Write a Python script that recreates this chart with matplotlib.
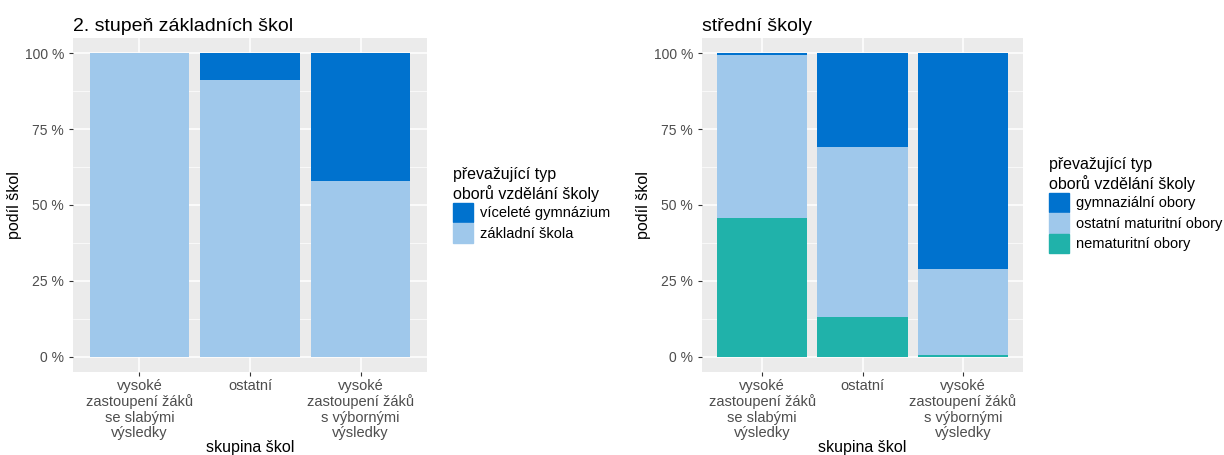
import matplotlib.pyplot as plt
from matplotlib.patches import Patch
import numpy as np

plt.rcParams['font.family'] = ['Liberation Sans', 'DejaVu Sans']

groups = ["vysoké\nzastoupení žáků\nse slabými\nvýsledky", "ostatní",
          "vysoké\nzastoupení žáků\ns výbornými\nvýsledky"]

# 2. stupeň ZŠ (podíl v %)
zs_zakladni = [100.0, 91.2, 58.0]
zs_gymnazium = [0.0, 8.8, 42.0]

# střední školy (podíl v %)
ss_nematuritni = [45.8, 13.1, 0.7]
ss_maturitni = [53.6, 56.1, 28.1]
ss_gymnazialni = [0.6, 30.8, 71.2]

c_dark = "#0072CE"
c_light = "#9FC8EB"
c_teal = "#20B2AA"
bg = "#EBEBEB"
txt = "#4D4D4D"

fig = plt.figure(figsize=(12.24, 4.55), dpi=100)
W, H = 1224, 455


def make_ax(x0, x1):
    ax = fig.add_axes([x0 / W, 1 - 372 / H, (x1 - x0) / W, (372 - 38) / H])
    ax.set_facecolor(bg)
    for s in ax.spines.values():
        s.set_visible(False)
    ax.set_xlim(0.4, 3.6)
    ax.set_ylim(-5, 105)
    ax.set_yticks([0, 25, 50, 75, 100])
    ax.set_yticklabels(["0 %", "25 %", "50 %", "75 %", "100 %"])
    ax.set_yticks([12.5, 37.5, 62.5, 87.5], minor=True)
    ax.set_xticks([1, 2, 3])
    ax.set_xticklabels(groups, linespacing=1.13, fontsize=10.5)
    ax.grid(True, which="major", color="white", linewidth=1.1)
    ax.grid(True, which="minor", axis="y", color="white", linewidth=0.5)
    ax.set_axisbelow(True)
    ax.tick_params(axis="both", which="major", colors="#333333", labelcolor=txt,
                   length=3, width=0.8)
    ax.tick_params(axis="y", labelsize=10)
    ax.tick_params(axis="x", pad=2)
    ax.tick_params(which="minor", length=0)
    ax.set_ylabel("podíl škol", fontsize=11.5, color="black", labelpad=2)
    ax.set_xlabel("skupina škol", fontsize=11.5, color="black", labelpad=0)
    return ax


x = np.arange(1, 4)

ax1 = make_ax(73, 427)
ax1.bar(x, zs_zakladni, width=0.9, color=c_light, linewidth=0)
ax1.bar(x, zs_gymnazium, width=0.9, bottom=zs_zakladni, color=c_dark, linewidth=0)
ax1.set_title("2. stupeň základních škol", loc="left", fontsize=14, pad=5)
leg1 = ax1.legend(handles=[Patch(color=c_dark, label="víceleté gymnázium"),
                           Patch(color=c_light, label="základní škola")],
                  title="převažující typ\noborů vzdělání školy",
                  loc="upper left", bbox_to_anchor=(446 / W, 1 - 160 / H),
                  bbox_transform=fig.transFigure, frameon=False, fontsize=10.5,
                  title_fontsize=11.5, alignment="left", handlelength=1.35,
                  handleheight=1.7, handletextpad=0.45, labelspacing=0.05,
                  borderpad=0)

ax2 = make_ax(702, 1023)
bottom2 = np.array(ss_nematuritni)
ax2.bar(x, ss_nematuritni, width=0.9, color=c_teal, linewidth=0)
ax2.bar(x, ss_maturitni, width=0.9, bottom=bottom2, color=c_light, linewidth=0)
bottom2 = bottom2 + np.array(ss_maturitni)
ax2.bar(x, ss_gymnazialni, width=0.9, bottom=bottom2, color=c_dark, linewidth=0)
ax2.set_title("střední školy", loc="left", fontsize=14, pad=5)
leg2 = ax2.legend(handles=[Patch(color=c_dark, label="gymnaziální obory"),
                           Patch(color=c_light, label="ostatní maturitní obory"),
                           Patch(color=c_teal, label="nematuritní obory")],
                  title="převažující typ\noborů vzdělání školy",
                  loc="upper left", bbox_to_anchor=(1042 / W, 1 - 150 / H),
                  bbox_transform=fig.transFigure, frameon=False, fontsize=10.5,
                  title_fontsize=11.5, alignment="left", handlelength=1.35,
                  handleheight=1.7, handletextpad=0.45, labelspacing=0.05,
                  borderpad=0)

fig.savefig("out.png", dpi=100)
